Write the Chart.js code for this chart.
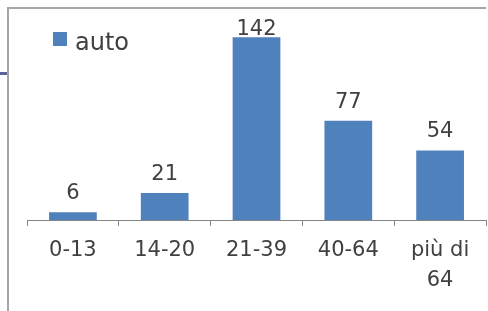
<!DOCTYPE html>
<html>
<head>
<meta charset="utf-8">
<script src="https://cdn.jsdelivr.net/npm/chart.js@4/dist/chart.umd.min.js"></script>
<style>
  body { margin: 0; background: #fff; overflow: hidden; }
  canvas { display: block; }
</style>
</head>
<body>
<canvas id="ageChart" width="488" height="311"></canvas>
<script>
// Values
const categories = ['0-13', '14-20', '21-39', '40-64', ['più di', '64']];
const autoValues = [6, 21, 142, 77, 54];
const seriesLabel = 'auto';

const textColor = '#404040';
const barColor = '#4f81bd';

// Gray frame (top and left) plus the small purple mark on the left
const framePlugin = {
    id: 'frame',
    beforeDraw(chart) {
        const ctx = chart.ctx;
        ctx.save();
        ctx.fillStyle = '#a6a6a6';
        ctx.fillRect(7, 7, chart.width - 9, 2);
        ctx.fillRect(7, 7, 2, chart.height - 7);
        ctx.fillStyle = '#5f5f9f';
        ctx.fillRect(0, 72, 7, 3);
        ctx.restore();
    }
};

// Value labels above each bar, kept inside the plot area
const valueLabels = {
    id: 'valueLabels',
    afterDatasetsDraw(chart) {
        const ctx = chart.ctx;
        const meta = chart.getDatasetMeta(0);
        ctx.save();
        ctx.font = '21px "DejaVu Sans"';
        ctx.fillStyle = textColor;
        ctx.textAlign = 'center';
        ctx.textBaseline = 'alphabetic';
        meta.data.forEach((bar, i) => {
            const y = Math.max(bar.y - 13, chart.chartArea.top + 21);
            ctx.fillText(String(chart.data.datasets[0].data[i]), bar.x, y);
        });
        ctx.restore();
    }
};

// Legend drawn inside the plot, top-left
const insideLegend = {
    id: 'insideLegend',
    afterDraw(chart) {
        const ctx = chart.ctx;
        const ds = chart.data.datasets[0];
        ctx.save();
        ctx.fillStyle = ds.backgroundColor;
        ctx.fillRect(53, 32, 14, 14);
        ctx.font = '24px "DejaVu Sans"';
        ctx.fillStyle = textColor;
        ctx.textBaseline = 'alphabetic';
        ctx.fillText(ds.label, 75, 50);
        ctx.restore();
    }
};

const ctx = document.getElementById('ageChart').getContext('2d');
new Chart(ctx, {
    type: 'bar',
    data: {
        labels: categories,
        datasets: [
            {
                label: seriesLabel,
                data: autoValues,
                backgroundColor: barColor,
                borderWidth: 0,
                categoryPercentage: 1,
                barPercentage: 0.52
            }
        ]
    },
    options: {
        responsive: false,
        animation: false,
        layout: { padding: { left: 27, right: 2, top: 14, bottom: 0 } },
        plugins: {
            legend: { display: false },
            tooltip: { enabled: false }
        },
        scales: {
            x: {
                afterFit(scale) { scale.height = 91; },
                grid: {
                    drawOnChartArea: false,
                    drawTicks: true,
                    tickLength: 6,
                    color: '#868686'
                },
                border: { display: true, color: '#868686', width: 1 },
                ticks: {
                    color: textColor,
                    padding: 10,
                    maxRotation: 0,
                    autoSkip: false,
                    font: { family: 'DejaVu Sans', size: 21, lineHeight: 1.4 }
                }
            },
            y: {
                display: false,
                min: 0,
                max: 160
            }
        }
    },
    plugins: [framePlugin, valueLabels, insideLegend]
});
</script>
</body>
</html>
